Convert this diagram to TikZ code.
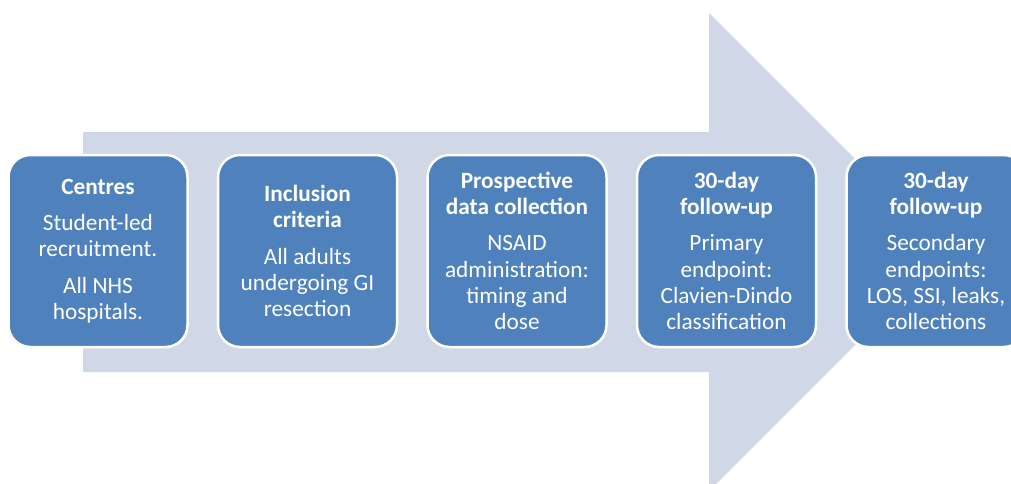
\documentclass[tikz,border=0pt]{standalone}
\usepackage{fontspec}
\setmainfont{Carlito}
\usetikzlibrary{positioning}
\definecolor{boxblue}{RGB}{79,129,189}
\definecolor{arrowblue}{RGB}{208,216,232}

\begin{document}
\begin{tikzpicture}[x=1pt,y=-1pt,node distance=30.5pt,every node/.style={rectangle,rounded corners=22pt,draw=white,line width=2.5pt,fill=boxblue,text=white,align=center,minimum width=179pt,minimum height=192pt,outer sep=0pt,font=\fontsize{23.3}{26.3}\selectfont}]
  \useasboundingbox (0,0) rectangle (1011,484);
  \clip (0,0) rectangle (1011,484);
  \fill[arrowblue] (83,132) -- (709,132) -- (709,13) -- (948,252) -- (709,491) -- (709,372) -- (83,372) -- cycle;
  \node (1) at (98,251) {\textbf{Centres}\\[10pt]Student-led\\recruitment.\\[10pt]All NHS\\hospitals.};
  \node (2) [right=of 1] {\textbf{Inclusion}\\\textbf{criteria}\\[10pt]All adults\\undergoing GI\\resection};
  \node (3) [right=of 2] {\textbf{Prospective}\\\textbf{data collection}\\[10pt]NSAID\\administration:\\timing and\\dose};
  \node (4) [right=of 3] {\textbf{30-day}\\\textbf{follow-up}\\[10pt]Primary\\endpoint:\\Clavien-Dindo\\classification};
  \node (5) [right=of 4] {\textbf{30-day}\\\textbf{follow-up}\\[10pt]Secondary\\endpoints:\\LOS, SSI, leaks,\\collections};
\end{tikzpicture}
\end{document}
